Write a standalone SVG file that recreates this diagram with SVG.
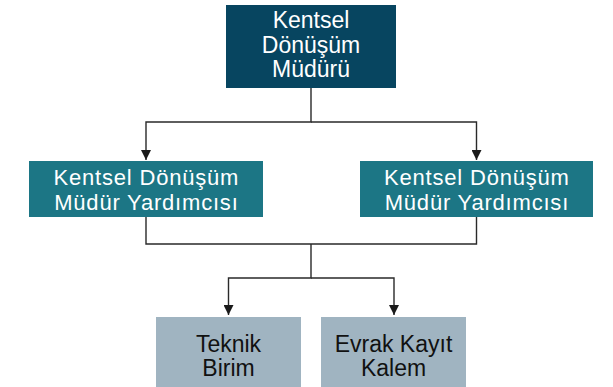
<svg xmlns="http://www.w3.org/2000/svg" width="613" height="387" viewBox="0 0 613 387">
<defs>
<style>
.t{font-family:"Liberation Sans",Arial,sans-serif;text-anchor:middle}
.top{fill:#074560}
.mid{fill:#1c7685}
.bot{fill:#a0b4c1}
.w{fill:#ffffff}
.k{fill:#111111}
.c{fill:none;stroke:#2a2a2a;stroke-width:1.4}
</style>
<marker id="ah" viewBox="0 0 10 10" refX="10" refY="5" markerWidth="10" markerHeight="10" markerUnits="userSpaceOnUse" orient="auto">
<path d="M0,0 L10,5 L0,10 z" fill="#1a1a1a"/>
</marker>
</defs>
<rect width="613" height="387" fill="#ffffff"/>
<g id="connectors">
<path class="c" d="M311,88 V122 H146 V160" marker-end="url(#ah)"/>
<path class="c" d="M311,122 H476.5 V160" marker-end="url(#ah)"/>
<path class="c" d="M146,217 V244 H476.5 V217"/>
<path class="c" d="M311,244 V278 H228.5 V315" marker-end="url(#ah)"/>
<path class="c" d="M311,278 H394 V315" marker-end="url(#ah)"/>
</g>
<g id="node-top">
<rect class="top" x="226" y="5" width="170" height="83"/>
<text class="t w" font-size="23"><tspan x="311" y="28">Kentsel</tspan><tspan x="311" y="53">Dönüşüm</tspan><tspan x="311" y="77">Müdürü</tspan></text>
</g>
<g id="node-mid-left">
<rect class="mid" x="29" y="161" width="234" height="56"/>
<text class="t w" font-size="22" letter-spacing="0.8"><tspan x="146.4" y="185">Kentsel Dönüşüm</tspan><tspan x="146.4" y="210">Müdür Yardımcısı</tspan></text>
</g>
<g id="node-mid-right">
<rect class="mid" x="360" y="161" width="233" height="56"/>
<text class="t w" font-size="22" letter-spacing="0.8"><tspan x="476.9" y="185">Kentsel Dönüşüm</tspan><tspan x="476.9" y="210">Müdür Yardımcısı</tspan></text>
</g>
<g id="node-bot-left">
<rect class="bot" x="156" y="317" width="145" height="70"/>
<text class="t k" font-size="23"><tspan x="228.5" y="352">Teknik</tspan><tspan x="228.5" y="376">Birim</tspan></text>
</g>
<g id="node-bot-right">
<rect class="bot" x="321" y="317" width="145" height="70"/>
<text class="t k" font-size="23"><tspan x="393.5" y="352">Evrak Kayıt</tspan><tspan x="393.5" y="376">Kalem</tspan></text>
</g>
</svg>
